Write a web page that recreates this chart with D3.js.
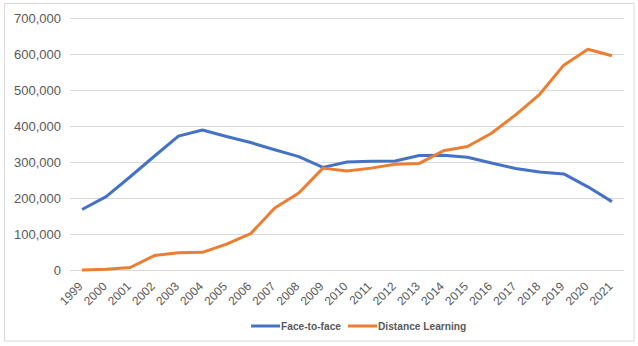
<!DOCTYPE html>
<html><head><meta charset="utf-8">
<script src="https://cdn.jsdelivr.net/npm/d3@7"></script>
<style>body{margin:0;background:#fff;} svg{display:block;font-family:"Liberation Sans",Arial,sans-serif;}</style>
</head><body><svg id="c" width="638" height="346"></svg>
<script>
const years = ["1999","2000","2001","2002","2003","2004","2005","2006","2007","2008","2009","2010","2011","2012","2013","2014","2015","2016","2017","2018","2019","2020","2021"];
const faceToFace = [168000,204000,259000,316000,372000,389000,371000,354000,334000,315000,285000,300000,302000,303000,318000,319000,313000,297000,282000,272000,267000,231000,190000];
const distanceLearning = [0,2000,7000,40000,48000,49000,72000,101000,172000,214000,283000,275000,283000,294000,296000,331000,343000,380000,431000,488000,569000,613000,595000];
const yTicks = [0,100000,200000,300000,400000,500000,600000,700000];
const seriesNames = ["Face-to-face","Distance Learning"];
const colors = ["#4472C4","#ED7D31"];

(function(){
const svg = d3.select("#c");
svg.append("rect").attr("x",4.5).attr("y",3.5).attr("width",629.5).attr("height",337.5)
  .attr("fill","#fff").attr("stroke","#d9d9d9").attr("stroke-width",1);

const mL = 70, mR = 624, mT = 18, mB = 270;
const x = d3.scalePoint().domain(years).range([mL, mR]).padding(0.5);
const y = d3.scaleLinear().domain([0,700000]).range([mB, mT]);

const gy = svg.append("g").attr("transform",`translate(${mL},0)`)
  .call(d3.axisLeft(y).tickValues(yTicks).tickSize(-(mR-mL)).tickPadding(9).tickFormat(d3.format(",")));
gy.select(".domain").remove();
gy.selectAll(".tick line").attr("stroke","#d9d9d9").attr("stroke-width",1);
gy.selectAll(".tick text").attr("fill","#595959").style("font-size","13px");

const gx = svg.append("g").attr("transform",`translate(0,${mB})`)
  .call(d3.axisBottom(x).tickSize(0).tickPadding(0));
gx.select(".domain").remove();
gx.selectAll(".tick text").attr("fill","#595959").style("font-size","12px")
  .attr("text-anchor","end").attr("dy","0")
  .attr("transform","translate(1,17) rotate(-45)");

const line = d3.line().x((d,i)=>x(years[i])).y(d=>y(d));
[faceToFace, distanceLearning].forEach((s,k)=>{
  svg.append("path").datum(s).attr("d",line).attr("fill","none")
    .attr("stroke",colors[k]).attr("stroke-width",3).attr("stroke-linejoin","round");
});

const lg = svg.append("g");
const lx = [251, 348];
seriesNames.forEach((n,k)=>{
  lg.append("line").attr("x1",lx[k]).attr("x2",lx[k]+29).attr("y1",326).attr("y2",326)
    .attr("stroke",colors[k]).attr("stroke-width",3);
  lg.append("text").attr("x",lx[k]+30).attr("y",326).attr("dy","0.35em")
    .attr("fill","#595959").style("font-size","10.2px").style("font-weight","bold").text(n);
});
})();
</script></body></html>
